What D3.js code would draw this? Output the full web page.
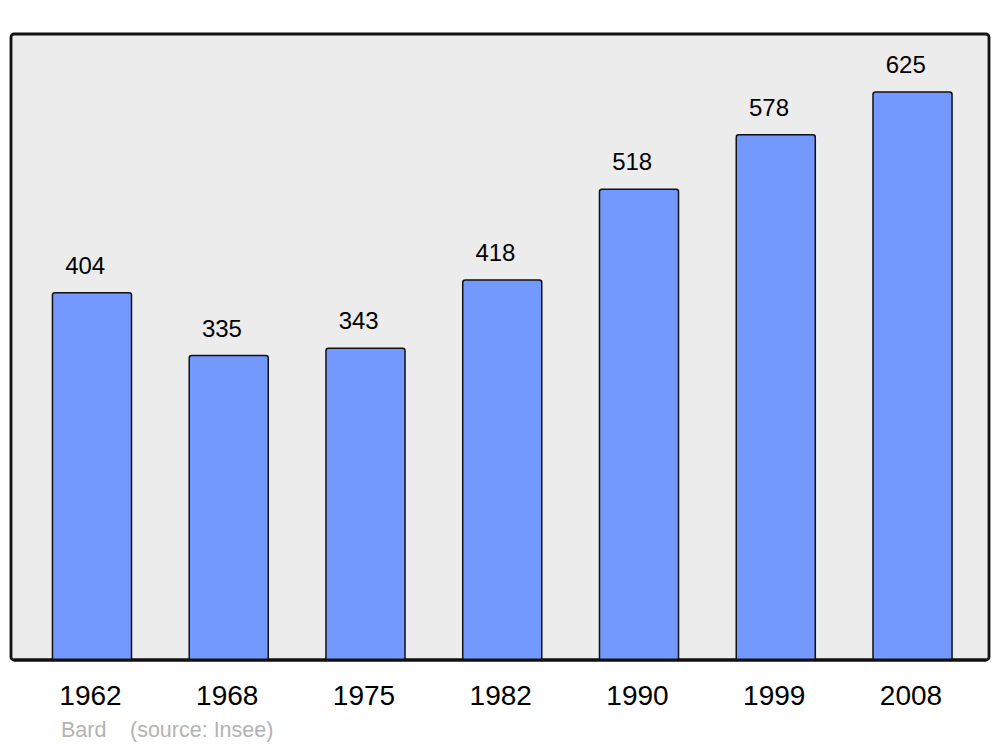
<!DOCTYPE html>
<html><head><meta charset="utf-8">
<script src="https://cdn.jsdelivr.net/npm/d3@7"></script>
<style>body{margin:0;background:#fff}svg{display:block}</style>
</head><body>
<script>
const years = ["1962","1968","1975","1982","1990","1999","2008"];
const population = [404,335,343,418,518,578,625];
const credit = "Bard";
const source = "(source: Insee)";

const W = 1000, H = 747;
const svg = d3.select("body").append("svg").attr("width", W).attr("height", H);
const font = "Liberation Sans, Arial, sans-serif";

const panel = {x0: 11, y0: 34, x1: 989, y1: 660};
svg.append("rect").attr("x", panel.x0).attr("y", panel.y0)
  .attr("width", panel.x1 - panel.x0).attr("height", panel.y1 - panel.y0)
  .attr("rx", 3).attr("fill", "#ececec").attr("stroke", "#111").attr("stroke-width", 2.8);

const x = d3.scaleBand().domain(years).range([23.6, 980.9]).paddingInner(0.422).paddingOuter(0.211);
const y = d3.scaleLinear().domain([0, 688.8]).range([panel.y1, panel.y0]);

const g = svg.append("g");
years.forEach((yr, i) => {
  const v = population[i];
  const bx = x(yr), bw = x.bandwidth(), by = y(v), bb = y(0), r = 2.5;
  g.append("path")
    .attr("d", `M${bx},${bb} L${bx},${by + r} Q${bx},${by} ${bx + r},${by} L${bx + bw - r},${by} Q${bx + bw},${by} ${bx + bw},${by + r} L${bx + bw},${bb}`)
    .attr("fill", "#7399ff").attr("stroke", "#111").attr("stroke-width", 1.5);
  g.append("text").attr("x", bx + bw / 2 - 6.8).attr("y", by - 19)
    .attr("text-anchor", "middle").attr("font-family", font).attr("font-size", 24)
    .attr("fill", "#000").text(v);
  g.append("text").attr("x", bx + bw / 2 - 1.5).attr("y", 705)
    .attr("text-anchor", "middle").attr("font-family", font).attr("font-size", 28)
    .attr("fill", "#000").text(yr);
});
svg.append("line").attr("x1", panel.x0 + 3).attr("x2", panel.x1 - 3).attr("y1", panel.y1).attr("y2", panel.y1)
  .attr("stroke", "#111").attr("stroke-width", 2.8);

svg.append("text").attr("x", 61).attr("y", 737).attr("font-family", font).attr("font-size", 21.5)
  .attr("fill", "#b3b3b3").text(credit);
svg.append("text").attr("x", 130).attr("y", 737).attr("font-family", font).attr("font-size", 21.5)
  .attr("fill", "#b3b3b3").text(source);
</script>
</body></html>
